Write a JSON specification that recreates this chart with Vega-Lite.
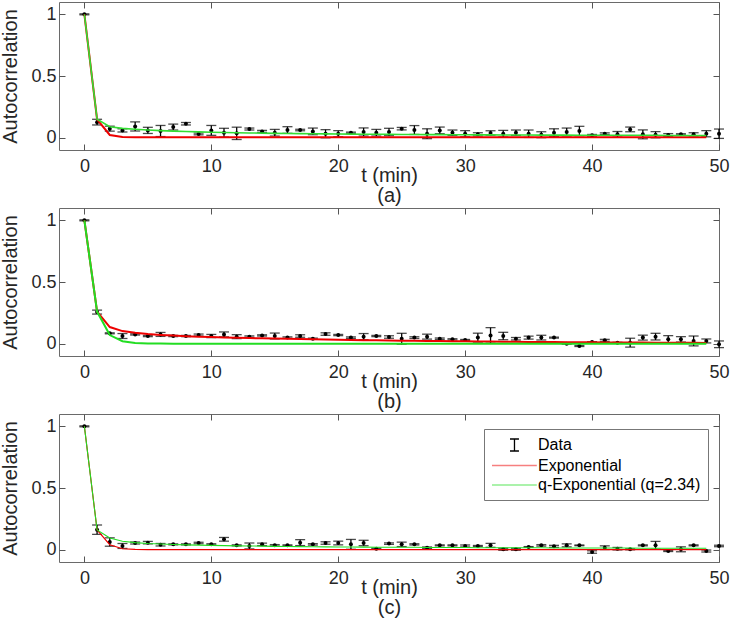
{
"$schema": "https://vega.github.io/schema/vega-lite/v6.json",
"padding": {"left": 0, "top": 1, "right": 0, "bottom": 0},
"spacing": 1,
"datasets": {
"a": [
{"t":0,"v":1,"lo":0.996,"hi":1.004,"e":1,"q":1},
{"t":1,"v":0.126,"lo":0.103,"hi":0.149,"e":0.148,"q":0.15},
{"t":2,"v":0.073,"lo":0.053,"hi":0.093,"e":0.022,"q":0.089},
{"t":3,"v":0.059,"lo":0.046,"hi":0.072,"e":0.005,"q":0.075},
{"t":4,"v":0.091,"lo":0.054,"hi":0.128,"e":0.003,"q":0.068},
{"t":5,"v":0.059,"lo":0.034,"hi":0.084,"e":0.003,"q":0.062},
{"t":6,"v":0.054,"lo":0.009,"hi":0.099,"e":0.003,"q":0.057},
{"t":7,"v":0.086,"lo":0.062,"hi":0.11,"e":0.003,"q":0.053},
{"t":8,"v":0.113,"lo":0.103,"hi":0.123,"e":0.003,"q":0.05},
{"t":9,"v":0.03,"lo":0.023,"hi":0.037,"e":0.003,"q":0.047},
{"t":10,"v":0.059,"lo":0.019,"hi":0.099,"e":0.003,"q":0.044},
{"t":11,"v":0.04,"lo":0.004,"hi":0.076,"e":0.003,"q":0.042},
{"t":12,"v":0.035,"lo":-0.015,"hi":0.085,"e":0.003,"q":0.04},
{"t":13,"v":0.07,"lo":0.062,"hi":0.078,"e":0.003,"q":0.038},
{"t":14,"v":0.051,"lo":0.043,"hi":0.059,"e":0.003,"q":0.037},
{"t":15,"v":0.04,"lo":0.013,"hi":0.067,"e":0.003,"q":0.035},
{"t":16,"v":0.062,"lo":0.035,"hi":0.089,"e":0.003,"q":0.034},
{"t":17,"v":0.062,"lo":0.056,"hi":0.068,"e":0.003,"q":0.033},
{"t":18,"v":0.051,"lo":0.024,"hi":0.078,"e":0.003,"q":0.032},
{"t":19,"v":0.032,"lo":-0.001,"hi":0.065,"e":0.003,"q":0.031},
{"t":20,"v":0.032,"lo":0.007,"hi":0.057,"e":0.003,"q":0.03},
{"t":21,"v":0.04,"lo":0.035,"hi":0.045,"e":0.003,"q":0.029},
{"t":22,"v":0.046,"lo":0.013,"hi":0.079,"e":0.003,"q":0.028},
{"t":23,"v":0.04,"lo":0.013,"hi":0.067,"e":0.003,"q":0.028},
{"t":24,"v":0.046,"lo":0.016,"hi":0.076,"e":0.003,"q":0.027},
{"t":25,"v":0.073,"lo":0.063,"hi":0.083,"e":0.003,"q":0.026},
{"t":26,"v":0.062,"lo":0.026,"hi":0.098,"e":0.003,"q":0.026},
{"t":27,"v":0.032,"lo":-0.008,"hi":0.072,"e":0.003,"q":0.025},
{"t":28,"v":0.059,"lo":0.032,"hi":0.086,"e":0.003,"q":0.025},
{"t":29,"v":0.04,"lo":0.018,"hi":0.062,"e":0.003,"q":0.024},
{"t":30,"v":0.032,"lo":0.007,"hi":0.057,"e":0.003,"q":0.024},
{"t":31,"v":0.027,"lo":0.014,"hi":0.04,"e":0.003,"q":0.023},
{"t":32,"v":0.038,"lo":0.02,"hi":0.056,"e":0.003,"q":0.023},
{"t":33,"v":0.032,"lo":0.005,"hi":0.059,"e":0.003,"q":0.022},
{"t":34,"v":0.04,"lo":0.018,"hi":0.062,"e":0.003,"q":0.022},
{"t":35,"v":0.032,"lo":0.002,"hi":0.062,"e":0.003,"q":0.022},
{"t":36,"v":0.024,"lo":0,"hi":0.048,"e":0.003,"q":0.021},
{"t":37,"v":0.04,"lo":0.008,"hi":0.072,"e":0.003,"q":0.021},
{"t":38,"v":0.046,"lo":0.014,"hi":0.078,"e":0.003,"q":0.021},
{"t":39,"v":0.054,"lo":0.016,"hi":0.092,"e":0.003,"q":0.02},
{"t":40,"v":0.019,"lo":0.012,"hi":0.026,"e":0.003,"q":0.02},
{"t":41,"v":0.032,"lo":0.025,"hi":0.039,"e":0.003,"q":0.02},
{"t":42,"v":0.027,"lo":0.004,"hi":0.05,"e":0.003,"q":0.019},
{"t":43,"v":0.067,"lo":0.048,"hi":0.086,"e":0.003,"q":0.019},
{"t":44,"v":0.027,"lo":-0.009,"hi":0.063,"e":0.003,"q":0.019},
{"t":45,"v":0.024,"lo":-0.001,"hi":0.049,"e":0.003,"q":0.019},
{"t":46,"v":0.022,"lo":0.011,"hi":0.033,"e":0.003,"q":0.018},
{"t":47,"v":0.027,"lo":0.022,"hi":0.032,"e":0.003,"q":0.018},
{"t":48,"v":0.027,"lo":0.014,"hi":0.04,"e":0.003,"q":0.018},
{"t":49,"v":0.032,"lo":0.007,"hi":0.057,"e":0.003,"q":0.018},
{"t":50,"v":0.032,"lo":-0.006,"hi":0.07}
],
"b": [
{"t":0,"v":1,"lo":0.996,"hi":1.004,"e":1,"q":1},
{"t":1,"v":0.256,"lo":0.24,"hi":0.272,"e":0.26,"q":0.26},
{"t":2,"v":0.084,"lo":0.08,"hi":0.088,"e":0.135,"q":0.07},
{"t":3,"v":0.062,"lo":0.042,"hi":0.082,"e":0.102,"q":0.02},
{"t":4,"v":0.075,"lo":0.07,"hi":0.08,"e":0.088,"q":0.006},
{"t":5,"v":0.062,"lo":0.057,"hi":0.067,"e":0.078,"q":0.002},
{"t":6,"v":0.075,"lo":0.059,"hi":0.091,"e":0.071,"q":0.001},
{"t":7,"v":0.062,"lo":0.057,"hi":0.067,"e":0.066,"q":0},
{"t":8,"v":0.062,"lo":0.057,"hi":0.067,"e":0.061,"q":0},
{"t":9,"v":0.07,"lo":0.062,"hi":0.078,"e":0.057,"q":0},
{"t":10,"v":0.062,"lo":0.049,"hi":0.075,"e":0.054,"q":0},
{"t":11,"v":0.075,"lo":0.055,"hi":0.095,"e":0.051,"q":0},
{"t":12,"v":0.057,"lo":0.041,"hi":0.073,"e":0.048,"q":0},
{"t":13,"v":0.057,"lo":0.051,"hi":0.063,"e":0.045,"q":0},
{"t":14,"v":0.067,"lo":0.062,"hi":0.072,"e":0.043,"q":0},
{"t":15,"v":0.062,"lo":0.038,"hi":0.086,"e":0.041,"q":0},
{"t":16,"v":0.049,"lo":0.043,"hi":0.055,"e":0.039,"q":0},
{"t":17,"v":0.062,"lo":0.052,"hi":0.072,"e":0.037,"q":0},
{"t":18,"v":0.04,"lo":0.035,"hi":0.045,"e":0.035,"q":0},
{"t":19,"v":0.078,"lo":0.068,"hi":0.088,"e":0.033,"q":0},
{"t":20,"v":0.07,"lo":0.065,"hi":0.075,"e":0.031,"q":0},
{"t":21,"v":0.049,"lo":0.043,"hi":0.055,"e":0.03,"q":0},
{"t":22,"v":0.057,"lo":0.032,"hi":0.082,"e":0.028,"q":0},
{"t":23,"v":0.062,"lo":0.057,"hi":0.067,"e":0.027,"q":0},
{"t":24,"v":0.054,"lo":0.044,"hi":0.064,"e":0.026,"q":0},
{"t":25,"v":0.04,"lo":-0.004,"hi":0.084,"e":0.024,"q":0},
{"t":26,"v":0.049,"lo":0.042,"hi":0.056,"e":0.023,"q":0},
{"t":27,"v":0.057,"lo":0.037,"hi":0.077,"e":0.022,"q":0},
{"t":28,"v":0.04,"lo":0.034,"hi":0.046,"e":0.021,"q":0},
{"t":29,"v":0.035,"lo":0.03,"hi":0.04,"e":0.02,"q":0},
{"t":30,"v":0.03,"lo":0.026,"hi":0.034,"e":0.019,"q":0},
{"t":31,"v":0.049,"lo":0.013,"hi":0.085,"e":0.018,"q":0},
{"t":32,"v":0.067,"lo":0.004,"hi":0.13,"e":0.017,"q":0},
{"t":33,"v":0.062,"lo":0.032,"hi":0.092,"e":0.016,"q":0},
{"t":34,"v":0.04,"lo":0.03,"hi":0.05,"e":0.015,"q":0},
{"t":35,"v":0.049,"lo":0.037,"hi":0.061,"e":0.014,"q":0},
{"t":36,"v":0.049,"lo":0.03,"hi":0.068,"e":0.014,"q":0},
{"t":37,"v":0.049,"lo":0.045,"hi":0.053,"e":0.013,"q":0},
{"t":38,"v":0,"lo":-0.004,"hi":0.004,"e":0.012,"q":0},
{"t":39,"v":-0.019,"lo":-0.023,"hi":-0.015,"e":0.012,"q":0},
{"t":40,"v":0.013,"lo":0.01,"hi":0.016,"e":0.011,"q":0},
{"t":41,"v":0.027,"lo":0.019,"hi":0.035,"e":0.01,"q":0},
{"t":42,"v":0.008,"lo":0.005,"hi":0.011,"e":0.01,"q":0},
{"t":43,"v":0.008,"lo":-0.028,"hi":0.044,"e":0.009,"q":0},
{"t":44,"v":0.049,"lo":0.029,"hi":0.069,"e":0.009,"q":0},
{"t":45,"v":0.057,"lo":0.03,"hi":0.084,"e":0.008,"q":0},
{"t":46,"v":0.035,"lo":0.005,"hi":0.065,"e":0.008,"q":0},
{"t":47,"v":0.035,"lo":0.013,"hi":0.057,"e":0.007,"q":0},
{"t":48,"v":0.022,"lo":-0.018,"hi":0.062,"e":0.007,"q":0},
{"t":49,"v":0.022,"lo":0.006,"hi":0.038,"e":0.006,"q":0},
{"t":50,"v":-0.005,"lo":-0.032,"hi":0.022}
],
"c": [
{"t":0,"v":1,"lo":0.996,"hi":1.004,"e":1,"q":1},
{"t":1,"v":0.162,"lo":0.124,"hi":0.2,"e":0.16,"q":0.16},
{"t":2,"v":0.062,"lo":0.028,"hi":0.096,"e":0.04,"q":0.094},
{"t":3,"v":0.03,"lo":0.01,"hi":0.05,"e":0.008,"q":0.068},
{"t":4,"v":0.054,"lo":0.046,"hi":0.062,"e":0.002,"q":0.057},
{"t":5,"v":0.057,"lo":0.047,"hi":0.067,"e":0,"q":0.05},
{"t":6,"v":0.04,"lo":0.03,"hi":0.05,"e":0,"q":0.046},
{"t":7,"v":0.043,"lo":0.039,"hi":0.047,"e":0,"q":0.042},
{"t":8,"v":0.043,"lo":0.039,"hi":0.047,"e":0,"q":0.039},
{"t":9,"v":0.054,"lo":0.048,"hi":0.06,"e":0,"q":0.037},
{"t":10,"v":0.043,"lo":0.038,"hi":0.048,"e":0,"q":0.035},
{"t":11,"v":0.084,"lo":0.069,"hi":0.099,"e":0,"q":0.033},
{"t":12,"v":0.035,"lo":0.031,"hi":0.039,"e":0,"q":0.031},
{"t":13,"v":0.03,"lo":0.006,"hi":0.054,"e":0,"q":0.03},
{"t":14,"v":0.043,"lo":0.033,"hi":0.053,"e":0,"q":0.029},
{"t":15,"v":0.035,"lo":0.029,"hi":0.041,"e":0,"q":0.027},
{"t":16,"v":0.035,"lo":0.031,"hi":0.039,"e":0,"q":0.026},
{"t":17,"v":0.057,"lo":0.033,"hi":0.081,"e":0,"q":0.025},
{"t":18,"v":0.043,"lo":0.037,"hi":0.049,"e":0,"q":0.024},
{"t":19,"v":0.054,"lo":0.044,"hi":0.064,"e":0,"q":0.023},
{"t":20,"v":0.054,"lo":0.039,"hi":0.069,"e":0,"q":0.022},
{"t":21,"v":0.043,"lo":0.003,"hi":0.083,"e":0,"q":0.022},
{"t":22,"v":0.054,"lo":0.032,"hi":0.076,"e":0,"q":0.021},
{"t":23,"v":0.008,"lo":0.004,"hi":0.012,"e":0,"q":0.02},
{"t":24,"v":0.049,"lo":0.043,"hi":0.055,"e":0,"q":0.02},
{"t":25,"v":0.043,"lo":0.025,"hi":0.061,"e":0,"q":0.019},
{"t":26,"v":0.043,"lo":0.038,"hi":0.048,"e":0,"q":0.019},
{"t":27,"v":0.016,"lo":0.01,"hi":0.022,"e":0,"q":0.018},
{"t":28,"v":0.035,"lo":0.031,"hi":0.039,"e":0,"q":0.018},
{"t":29,"v":0.035,"lo":0.031,"hi":0.039,"e":0,"q":0.017},
{"t":30,"v":0.03,"lo":0.022,"hi":0.038,"e":0,"q":0.017},
{"t":31,"v":0.03,"lo":0.026,"hi":0.034,"e":0,"q":0.016},
{"t":32,"v":0.035,"lo":0.019,"hi":0.051,"e":0,"q":0.016},
{"t":33,"v":0.003,"lo":-0.005,"hi":0.011,"e":0,"q":0.016},
{"t":34,"v":0.003,"lo":-0.005,"hi":0.011,"e":0,"q":0.015},
{"t":35,"v":0.022,"lo":0.019,"hi":0.025,"e":0,"q":0.015},
{"t":36,"v":0.035,"lo":0.029,"hi":0.041,"e":0,"q":0.015},
{"t":37,"v":0.027,"lo":0.019,"hi":0.035,"e":0,"q":0.014},
{"t":38,"v":0.035,"lo":0.023,"hi":0.047,"e":0,"q":0.014},
{"t":39,"v":0.035,"lo":0.032,"hi":0.038,"e":0,"q":0.014},
{"t":40,"v":-0.019,"lo":-0.029,"hi":-0.009,"e":0,"q":0.013},
{"t":41,"v":0.016,"lo":0.001,"hi":0.031,"e":0,"q":0.013},
{"t":42,"v":0.008,"lo":-0.002,"hi":0.018,"e":0,"q":0.013},
{"t":43,"v":0.003,"lo":-0.001,"hi":0.007,"e":0,"q":0.013},
{"t":44,"v":0.035,"lo":0.031,"hi":0.039,"e":0,"q":0.012},
{"t":45,"v":0.035,"lo":0.003,"hi":0.067,"e":0,"q":0.012},
{"t":46,"v":-0.011,"lo":-0.015,"hi":-0.007,"e":0,"q":0.012},
{"t":47,"v":0.003,"lo":-0.017,"hi":0.023,"e":0,"q":0.012},
{"t":48,"v":0.035,"lo":0.031,"hi":0.039,"e":0,"q":0.011},
{"t":49,"v":-0.011,"lo":-0.019,"hi":-0.003,"e":0,"q":0.011},
{"t":50,"v":0.03,"lo":0.024,"hi":0.036}
]
},
"resolve": {"scale": {"color": "independent"}, "legend": {"color": "independent"}},
"vconcat": [
{
"data": {"name": "a"},
"width": 660, "height": 148,
"resolve": {"scale": {"x": "independent", "y": "independent"}},
"layer": [
{
"encoding": {"x": {"field": "t", "type": "quantitative", "scale": {"domain": [-2, 50], "nice": false, "zero": false}, "axis": {"values": [0, 10, 20, 30, 40, 50]}, "title": ["t (min)", "(a)"]}},
"layer": [
{"mark": {"type": "rule", "color": "#000", "strokeWidth": 1.3}, "encoding": {"y": {"field": "lo", "type": "quantitative", "scale": {"domain": [-0.1, 1.1], "nice": false, "zero": false}, "axis": {"values": [0, 0.5, 1], "labelExpr": "datum.value"}, "title": "Autocorrelation"}, "y2": {"field": "hi"}}},
{"mark": {"type": "tick", "orient": "horizontal", "color": "#000", "size": 10, "thickness": 1.3}, "encoding": {"y": {"field": "lo", "type": "quantitative", "scale": {"domain": [-0.1, 1.1], "nice": false, "zero": false}, "axis": {"values": [0, 0.5, 1], "labelExpr": "datum.value"}, "title": "Autocorrelation"}}},
{"mark": {"type": "tick", "orient": "horizontal", "color": "#000", "size": 10, "thickness": 1.3}, "encoding": {"y": {"field": "hi", "type": "quantitative", "scale": {"domain": [-0.1, 1.1], "nice": false, "zero": false}, "axis": {"values": [0, 0.5, 1], "labelExpr": "datum.value"}, "title": "Autocorrelation"}}},
{"mark": {"type": "point", "filled": true, "color": "#000", "size": 16, "opacity": 1}, "encoding": {"y": {"field": "v", "type": "quantitative", "scale": {"domain": [-0.1, 1.1], "nice": false, "zero": false}, "axis": {"values": [0, 0.5, 1], "labelExpr": "datum.value"}, "title": "Autocorrelation"}}},
{"mark": {"type": "line", "color": "#ee0000", "strokeWidth": 2}, "encoding": {"y": {"field": "e", "type": "quantitative", "scale": {"domain": [-0.1, 1.1], "nice": false, "zero": false}, "axis": {"values": [0, 0.5, 1], "labelExpr": "datum.value"}, "title": "Autocorrelation"}}},
{"mark": {"type": "line", "color": "#33dd33", "strokeWidth": 1.6}, "encoding": {"y": {"field": "q", "type": "quantitative", "scale": {"domain": [-0.1, 1.1], "nice": false, "zero": false}, "axis": {"values": [0, 0.5, 1], "labelExpr": "datum.value"}, "title": "Autocorrelation"}}}
]
},
{"mark": {"type": "point", "opacity": 0}, "encoding": {
"x": {"field": "t", "type": "quantitative", "scale": {"domain": [-2, 50], "nice": false, "zero": false}, "axis": {"orient": "top", "labels": false, "values": [0, 10, 20, 30, 40, 50]}, "title": null},
"y": {"field": "v", "type": "quantitative", "scale": {"domain": [-0.1, 1.1], "nice": false, "zero": false}, "axis": {"orient": "right", "labels": false, "values": [0, 0.5, 1]}, "title": null}}}
]
},
{
"data": {"name": "b"},
"width": 660, "height": 148,
"resolve": {"scale": {"x": "independent", "y": "independent"}},
"layer": [
{
"encoding": {"x": {"field": "t", "type": "quantitative", "scale": {"domain": [-2, 50], "nice": false, "zero": false}, "axis": {"values": [0, 10, 20, 30, 40, 50]}, "title": ["t (min)", "(b)"]}},
"layer": [
{"mark": {"type": "rule", "color": "#000", "strokeWidth": 1.3}, "encoding": {"y": {"field": "lo", "type": "quantitative", "scale": {"domain": [-0.1, 1.1], "nice": false, "zero": false}, "axis": {"values": [0, 0.5, 1], "labelExpr": "datum.value"}, "title": "Autocorrelation"}, "y2": {"field": "hi"}}},
{"mark": {"type": "tick", "orient": "horizontal", "color": "#000", "size": 10, "thickness": 1.3}, "encoding": {"y": {"field": "lo", "type": "quantitative", "scale": {"domain": [-0.1, 1.1], "nice": false, "zero": false}, "axis": {"values": [0, 0.5, 1], "labelExpr": "datum.value"}, "title": "Autocorrelation"}}},
{"mark": {"type": "tick", "orient": "horizontal", "color": "#000", "size": 10, "thickness": 1.3}, "encoding": {"y": {"field": "hi", "type": "quantitative", "scale": {"domain": [-0.1, 1.1], "nice": false, "zero": false}, "axis": {"values": [0, 0.5, 1], "labelExpr": "datum.value"}, "title": "Autocorrelation"}}},
{"mark": {"type": "point", "filled": true, "color": "#000", "size": 16, "opacity": 1}, "encoding": {"y": {"field": "v", "type": "quantitative", "scale": {"domain": [-0.1, 1.1], "nice": false, "zero": false}, "axis": {"values": [0, 0.5, 1], "labelExpr": "datum.value"}, "title": "Autocorrelation"}}},
{"mark": {"type": "line", "color": "#ee0000", "strokeWidth": 2}, "encoding": {"y": {"field": "e", "type": "quantitative", "scale": {"domain": [-0.1, 1.1], "nice": false, "zero": false}, "axis": {"values": [0, 0.5, 1], "labelExpr": "datum.value"}, "title": "Autocorrelation"}}},
{"mark": {"type": "line", "color": "#22dd22", "strokeWidth": 2}, "encoding": {"y": {"field": "q", "type": "quantitative", "scale": {"domain": [-0.1, 1.1], "nice": false, "zero": false}, "axis": {"values": [0, 0.5, 1], "labelExpr": "datum.value"}, "title": "Autocorrelation"}}}
]
},
{"mark": {"type": "point", "opacity": 0}, "encoding": {
"x": {"field": "t", "type": "quantitative", "scale": {"domain": [-2, 50], "nice": false, "zero": false}, "axis": {"orient": "top", "labels": false, "values": [0, 10, 20, 30, 40, 50]}, "title": null},
"y": {"field": "v", "type": "quantitative", "scale": {"domain": [-0.1, 1.1], "nice": false, "zero": false}, "axis": {"orient": "right", "labels": false, "values": [0, 0.5, 1]}, "title": null}}}
]
},
{
"data": {"name": "c"},
"width": 660, "height": 148,
"resolve": {"scale": {"x": "independent", "y": "independent"}},
"layer": [
{
"encoding": {"x": {"field": "t", "type": "quantitative", "scale": {"domain": [-2, 50], "nice": false, "zero": false}, "axis": {"values": [0, 10, 20, 30, 40, 50]}, "title": ["t (min)", "(c)"]}},
"layer": [
{"mark": {"type": "rule", "strokeWidth": 1.3}, "encoding": {"y": {"field": "lo", "type": "quantitative", "scale": {"domain": [-0.1, 1.1], "nice": false, "zero": false}, "axis": {"values": [0, 0.5, 1], "labelExpr": "datum.value"}, "title": "Autocorrelation"}, "y2": {"field": "hi"},
 "color": {"datum": "Data", "type": "nominal", "scale": {"domain": ["Data", "Exponential", "q-Exponential (q=2.34)"], "range": ["#000000", "#ee0000", "#22dd22"]},
  "legend": {"orient": "none", "legendX": 425, "legendY": 15, "title": null, "labelFont": "Liberation Sans", "labelFontSize": 16, "labelColor": "#000", "labelLimit": 400, "strokeColor": "#777", "fillColor": "#ffffff", "padding": 7, "symbolSize": 256, "symbolType": "M-1,0H4.6", "labelOffset": 29, "rowPadding": 2.5,
   "encode": {"symbols": {"update": {"shape": [{"test": "datum.value === 'Data'", "value": "M1.25,-0.75H2.37M1.81,-0.75V0.75M1.25,0.75H2.37"}, {"value": "M-1,0H4.6"}], "strokeOpacity": [{"test": "datum.value === 'Data'", "value": 1}, {"value": 0.5}], "fill": {"value": "transparent"}, "strokeWidth": {"value": 1.3}}}}}}}},
{"mark": {"type": "tick", "orient": "horizontal", "color": "#000", "size": 10, "thickness": 1.3}, "encoding": {"y": {"field": "lo", "type": "quantitative", "scale": {"domain": [-0.1, 1.1], "nice": false, "zero": false}, "axis": {"values": [0, 0.5, 1], "labelExpr": "datum.value"}, "title": "Autocorrelation"}}},
{"mark": {"type": "tick", "orient": "horizontal", "color": "#000", "size": 10, "thickness": 1.3}, "encoding": {"y": {"field": "hi", "type": "quantitative", "scale": {"domain": [-0.1, 1.1], "nice": false, "zero": false}, "axis": {"values": [0, 0.5, 1], "labelExpr": "datum.value"}, "title": "Autocorrelation"}}},
{"mark": {"type": "point", "filled": true, "color": "#000", "size": 16, "opacity": 1}, "encoding": {"y": {"field": "v", "type": "quantitative", "scale": {"domain": [-0.1, 1.1], "nice": false, "zero": false}, "axis": {"values": [0, 0.5, 1], "labelExpr": "datum.value"}, "title": "Autocorrelation"}}},
{"mark": {"type": "line", "strokeWidth": 1.1}, "encoding": {"y": {"field": "e", "type": "quantitative", "scale": {"domain": [-0.1, 1.1], "nice": false, "zero": false}, "axis": {"values": [0, 0.5, 1], "labelExpr": "datum.value"}, "title": "Autocorrelation"},
 "color": {"datum": "Exponential", "type": "nominal", "scale": {"domain": ["Data", "Exponential", "q-Exponential (q=2.34)"], "range": ["#000000", "#ee0000", "#22dd22"]}}}},
{"mark": {"type": "line", "strokeWidth": 1.1}, "encoding": {"y": {"field": "q", "type": "quantitative", "scale": {"domain": [-0.1, 1.1], "nice": false, "zero": false}, "axis": {"values": [0, 0.5, 1], "labelExpr": "datum.value"}, "title": "Autocorrelation"},
 "color": {"datum": "q-Exponential (q=2.34)", "type": "nominal", "scale": {"domain": ["Data", "Exponential", "q-Exponential (q=2.34)"], "range": ["#000000", "#ee0000", "#22dd22"]}}}}
]
},
{"mark": {"type": "point", "opacity": 0}, "encoding": {
"x": {"field": "t", "type": "quantitative", "scale": {"domain": [-2, 50], "nice": false, "zero": false}, "axis": {"orient": "top", "labels": false, "values": [0, 10, 20, 30, 40, 50]}, "title": null},
"y": {"field": "v", "type": "quantitative", "scale": {"domain": [-0.1, 1.1], "nice": false, "zero": false}, "axis": {"orient": "right", "labels": false, "values": [0, 0.5, 1]}, "title": null}}}
]
}
],
"config": {
"view": {"stroke": "#6a6a6a", "strokeWidth": 1},
"axis": {"labelFont": "Liberation Sans", "titleFont": "Liberation Sans", "labelFontSize": 18, "titleFontSize": 20, "labelColor": "#262626", "titleColor": "#262626", "titleFontWeight": "normal", "domain": false, "grid": false, "tickColor": "#555555", "tickSize": -6, "tickWidth": 1, "labelFlush": false},
"axisBottom": {"labelPadding": 13, "titlePadding": -10, "titleLineHeight": 20},
"axisLeft": {"labelPadding": 9, "titlePadding": 10}
}
}
